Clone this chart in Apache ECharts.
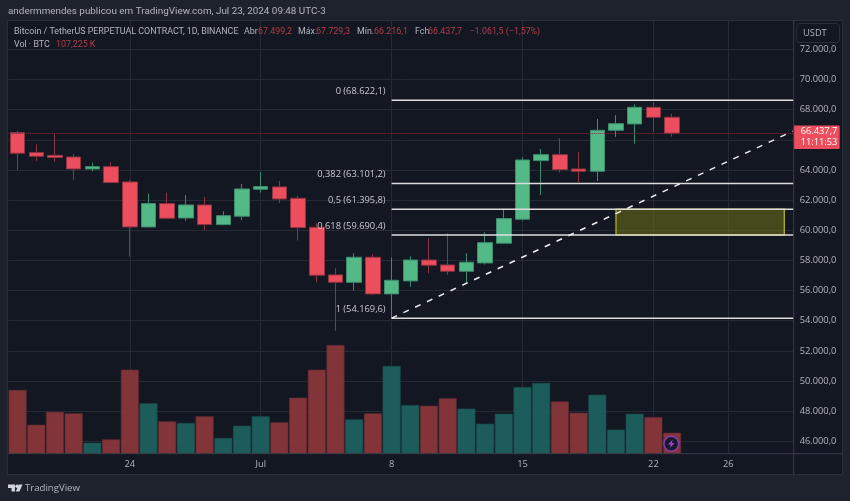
<!DOCTYPE html>
<html>
<head>
<meta charset="utf-8">
<title>BTCUSDT</title>
<script src="https://cdn.jsdelivr.net/npm/echarts@6/dist/echarts.min.js"></script>
<style>
html, body { margin: 0; padding: 0; background: #1e222d; }
#chart { width: 850px; height: 501px; }
</style>
</head>
<body>
<div id="chart"></div>
<script>
// velas diarias
var days = [
    'Jun 18', 'Jun 19', 'Jun 20', 'Jun 21', 'Jun 22', 'Jun 23', 'Jun 24', 'Jun 25', 'Jun 26', 'Jun 27', 'Jun 28', 'Jun 29', 'Jun 30',
    'Jul 1', 'Jul 2', 'Jul 3', 'Jul 4', 'Jul 5', 'Jul 6', 'Jul 7', 'Jul 8', 'Jul 9', 'Jul 10', 'Jul 11', 'Jul 12', 'Jul 13', 'Jul 14',
    'Jul 15', 'Jul 16', 'Jul 17', 'Jul 18', 'Jul 19', 'Jul 20', 'Jul 21', 'Jul 22', 'Jul 23', 'Jul 24', 'Jul 25', 'Jul 26', 'Jul 27', 'Jul 28', 'Jul 29'
];
var opens = [66475, 65150, 64970, 64860, 64065, 64220, 63205, 60220, 61770, 60815, 61680, 60375, 60930,
    62720, 62875, 62120, 60200, 57040, 56550, 58210, 55780, 56640, 58030, 57700, 57280, 57835, 59140,
    60730, 64620, 65015, 64065, 63910, 66630, 67050, 68155, 67499.2];
var closes = [65105, 64905, 64820, 64065, 64220, 63160, 60220, 61770, 60795, 61680, 60375, 60970, 62740,
    62895, 62075, 60175, 57015, 56550, 58210, 55780, 56685, 58030, 57680, 57280, 57880, 59180, 60775,
    64660, 65015, 64020, 63910, 66630, 67070, 68155, 67490, 66437.7];
var lows = [64000, 64595, 64530, 63335, 63910, 63130, 58255, 60200, 60730, 60620, 60020, 60340, 60685,
    62495, 61810, 59315, 56550, 53325, 56000, 55710, 54165, 56265, 57150, 57040, 56485, 57725, 59110,
    60640, 62340, 63825, 63180, 63270, 66190, 65745, 66520, 66216.1];
var highs = [66585, 65700, 66430, 65060, 64485, 64510, 63335, 62430, 62495, 62340, 62210, 61260, 63070,
    63865, 63270, 62275, 60465, 57480, 58475, 58410, 58190, 58275, 59470, 59800, 58475, 59870, 61390,
    64840, 65390, 66100, 65195, 67380, 67645, 68355, 68485, 67729.3];
// volume em K BTC
var volumes = [325, 148, 214, 206, 56, 73, 429, 257, 165, 157, 191, 80, 143,
    191, 160, 286, 429, 555, 175, 206, 448, 248, 245, 283, 230, 153, 204,
    340, 361, 267, 209, 301, 123, 204, 187, 107.225];

// eixos
var priceTicks = [46000, 48000, 50000, 52000, 54000, 56000, 58000, 60000, 62000, 64000, 66000, 68000, 70000, 72000];
var dayTickLabels = { 'Jun 24': '24', 'Jul 1': 'Jul', 'Jul 8': '8', 'Jul 15': '15', 'Jul 22': '22', 'Jul 26': '26' };
var dayTickIndexes = [6, 13, 20, 27, 34, 38];

// desenhos: fibonacci, tendencia e caixa
var fibLevels = ['0', '0,382', '0,5', '0,618', '1'];
var fibValues = [68622.1, 63101.2, 61395.8, 59690.4, 54169.6];
var fibStartDay = 'Jul 8';
var trendDays = ['Jul 8', 'Jul 29'];
var trendValues = [54169.6, 66310];
var boxDays = ['Jul 20', 'Jul 29'];
var boxValues = [61395.8, 59690.4];
var lastPrice = 66437.7;
var countdown = '11:11:53';

var UI_FONT = '"Open Sans", "Liberation Sans", sans-serif';
var FONT_SIZE = 9.3;
var FONT = FONT_SIZE + 'px ' + UI_FONT;
var HEAD_FONT = '8.9px Roboto, sans-serif';
var UP = '#53b987', DOWN = '#ec4e5d';
var TEXT = '#b2b5be', DIM_RED = '#b33b48', GRID = '#262a35', EDGE = '#3a3e4a';

function brNumber(v) {
    var s = v.toFixed(1).split('.');
    return s[0].replace(/\B(?=(\d{3})+$)/g, '.') + ',' + s[1];
}

function headText(x, y, text, fill, font) {
    return {
        type: 'text', z: 20, x: x, y: y,
        style: { text: text, fill: fill || TEXT, font: font || HEAD_FONT, verticalAlign: 'middle' }
    };
}

var chart = echarts.init(document.getElementById('chart'), null, { renderer: 'canvas' });

// linha horizontal do fib com o rotulo a esquerda
function renderFib(params, api) {
    var p = api.coord([api.value(0), api.value(1)]);
    var right = params.coordSys.x + params.coordSys.width;
    var i = params.dataIndex;
    return {
        type: 'group',
        children: [{
            type: 'line',
            shape: { x1: p[0], y1: p[1], x2: right, y2: p[1] },
            style: { stroke: '#dcdcdc', lineWidth: 1.6 }
        }, {
            type: 'text',
            style: {
                x: p[0] - 6, y: p[1] - 9,
                text: fibLevels[i] + ' (' + brNumber(fibValues[i]) + ')',
                fill: '#c8cad0', font: FONT, align: 'right', verticalAlign: 'middle'
            }
        }]
    };
}

// tendencia tracejada, vai ate a borda direita
function renderTrend(params, api) {
    var a = api.coord([days.indexOf(trendDays[0]), trendValues[0]]);
    var b = api.coord([days.indexOf(trendDays[1]), trendValues[1]]);
    var right = params.coordSys.x + params.coordSys.width - 1;
    var t = (right - a[0]) / (b[0] - a[0]);
    return {
        type: 'line',
        shape: { x1: a[0], y1: a[1], x2: right, y2: a[1] + (b[1] - a[1]) * t },
        style: { stroke: '#eeeeee', lineWidth: 1.5, lineDash: [6, 7] }
    };
}

// etiqueta do ultimo preco no eixo
function renderPriceTag(params, api) {
    var p = api.coord([0, api.value(1)]);
    var left = params.coordSys.x + params.coordSys.width;
    return {
        type: 'group',
        children: [{
            type: 'rect',
            shape: { x: left, y: p[1] - 7.6, width: 46, height: 23.3, r: 1 },
            style: { fill: DOWN }
        }, {
            type: 'text',
            style: { x: left + 7, y: p[1] - 1.8, text: brNumber(api.value(1)), fill: '#ffffff', font: FONT, verticalAlign: 'middle' }
        }, {
            type: 'text',
            style: { x: left + 7, y: p[1] + 9.2, text: countdown, fill: '#ffffff', font: FONT, verticalAlign: 'middle' }
        }]
    };
}

var option = {
    animation: false,
    backgroundColor: '#1e222d',
    textStyle: { fontFamily: UI_FONT },
    grid: { left: 8.25, top: 21, width: 785.4, height: 432.7, containLabel: false },
    xAxis: [{
        type: 'category',
        data: days,
        boundaryGap: true,
        axisLine: { show: false },
        axisTick: { show: false },
        splitLine: { show: false },
        axisLabel: {
            color: TEXT, fontSize: FONT_SIZE, fontFamily: UI_FONT, margin: 6,
            interval: function (index, value) { return dayTickLabels[value] !== undefined; },
            formatter: function (value) { return dayTickLabels[value]; }
        }
    }, {
        // so para as linhas verticais da grade
        type: 'value',
        min: -0.5,
        max: 41.5,
        position: 'bottom',
        axisLine: { show: false },
        axisLabel: { show: false },
        axisTick: { show: false, customValues: dayTickIndexes },
        splitLine: { show: true, lineStyle: { color: GRID, width: 1 } }
    }],
    yAxis: [{
        type: 'value',
        position: 'right',
        min: 45183,
        max: 73877,
        scale: true,
        axisLine: { show: false },
        axisTick: { show: false, customValues: priceTicks },
        axisLabel: {
            customValues: priceTicks,
            color: TEXT, fontSize: FONT_SIZE, fontFamily: UI_FONT, margin: 6,
            formatter: function (v) { return brNumber(v); }
        },
        splitLine: { show: true, lineStyle: { color: GRID, width: 1 } }
    }, {
        type: 'value',
        position: 'left',
        min: 0,
        max: 2208,
        show: false,
        splitLine: { show: false }
    }],
    series: [{
        name: 'Vol',
        type: 'bar',
        yAxisIndex: 1,
        barWidth: 18,
        z: 1,
        data: volumes.map(function (v, i) {
            var up = closes[i] >= opens[i];
            return {
                value: v,
                itemStyle: { color: up ? 'rgba(28,96,94,0.95)' : 'rgba(137,54,58,0.95)', borderColor: up ? '#1a4a4c' : '#5c2a30', borderWidth: 0.6 }
            };
        })
    }, {
        name: 'BTCUSDT',
        type: 'candlestick',
        barWidth: 15,
        z: 2,
        data: opens.map(function (o, i) { return [o, closes[i], lows[i], highs[i]]; }),
        itemStyle: { color: UP, color0: DOWN, borderColor: '#3d8c6d', borderColor0: '#8e3340', borderWidth: 1 },
        markLine: {
            silent: true,
            symbol: 'none',
            label: { show: false },
            lineStyle: { color: '#7a2f3b', type: 'dotted', width: 1 },
            data: [{ yAxis: lastPrice }]
        }
    }, {
        name: 'Caixa',
        type: 'line',
        data: [],
        z: 3,
        markArea: {
            silent: true,
            itemStyle: { color: 'rgba(128,128,24,0.48)', borderColor: '#a9a81f', borderWidth: 1.4 },
            data: [[{ xAxis: boxDays[0], yAxis: boxValues[0] }, { xAxis: boxDays[1], yAxis: boxValues[1] }]]
        }
    }, {
        name: 'Fib',
        type: 'custom',
        z: 4,
        clip: false,
        renderItem: renderFib,
        data: fibValues.map(function (v) { return [fibStartDay, v]; })
    }, {
        name: 'Tendencia',
        type: 'custom',
        z: 5,
        clip: false,
        renderItem: renderTrend,
        data: [[trendDays[0], trendValues[0]]]
    }, {
        name: 'Ultimo',
        type: 'custom',
        z: 6,
        clip: false,
        renderItem: renderPriceTag,
        data: [[days[0], lastPrice]]
    }],
    graphic: [
        { type: 'rect', z: -1, shape: { x: 7.5, y: 20.5, width: 835, height: 454 }, style: { fill: '#131722', stroke: '#2a2e39', lineWidth: 1 } },
        { type: 'line', z: 10, shape: { x1: 793.7, y1: 21, x2: 793.7, y2: 474 }, style: { stroke: EDGE, lineWidth: 1 } },
        { type: 'line', z: 10, shape: { x1: 8, y1: 453.7, x2: 842, y2: 453.7 }, style: { stroke: EDGE, lineWidth: 1 } },
        // botao USDT
        { type: 'rect', z: 20, shape: { x: 796.5, y: 23.5, width: 43, height: 19, r: 3 }, style: { fill: '#131722', stroke: '#2a2e39', lineWidth: 1 } },
        headText(803, 33, 'USDT', TEXT, FONT),
        // cabecalho
        headText(8, 12, 'andermmendes publicou em TradingView.com, Jul 23, 2024 09:48 UTC-3', TEXT, '9.9px Roboto, sans-serif'),
        headText(14, 32, 'Bitcoin / TetherUS PERPETUAL CONTRACT, 1D, BINANCE'),
        headText(244, 32, 'Abr'),
        headText(258, 32, '67.499,2', DIM_RED),
        headText(298, 32, 'Máx.'),
        headText(316, 32, '67.729,3', DIM_RED),
        headText(357, 32, 'Mín.'),
        headText(374, 32, '66.216,1', DIM_RED),
        headText(415, 32, 'Fch'),
        headText(428, 32, '66.437,7', DIM_RED),
        headText(469.5, 32, '−1.061,5 (−1,57%)', DIM_RED),
        headText(14, 45, 'Vol · BTC'),
        headText(56, 45, '107,225 K', DIM_RED),
        // icone do raio
        { type: 'circle', z: 20, shape: { cx: 671.3, cy: 443.7, r: 7.4 }, style: { fill: '#171a2c', stroke: '#8a3db3', lineWidth: 1.4 } },
        { type: 'polygon', z: 21, shape: { points: [[672.8, 439.4], [667.9, 444.5], [670.8, 444.5], [669.9, 448], [674.7, 442.9], [671.8, 442.9]] }, style: { fill: '#a145d0' } },
        // logo TradingView
        { type: 'polygon', z: 20, shape: { points: [[8, 484.5], [15, 484.5], [15, 491.5], [11.5, 491.5], [11.5, 488], [8, 488]] }, style: { fill: '#d1d4dc' } },
        { type: 'circle', z: 20, shape: { cx: 17, cy: 486.3, r: 1.7 }, style: { fill: '#d1d4dc' } },
        { type: 'polygon', z: 20, shape: { points: [[22.5, 484.5], [19.5, 491.5], [15.8, 491.5], [18.8, 484.5]] }, style: { fill: '#d1d4dc' } },
        { type: 'text', z: 20, x: 25, y: 488, style: { text: 'TradingView', fill: TEXT, font: '9.6px ' + UI_FONT, verticalAlign: 'middle' } }
    ]
};

chart.setOption(option);
</script>
</body>
</html>
